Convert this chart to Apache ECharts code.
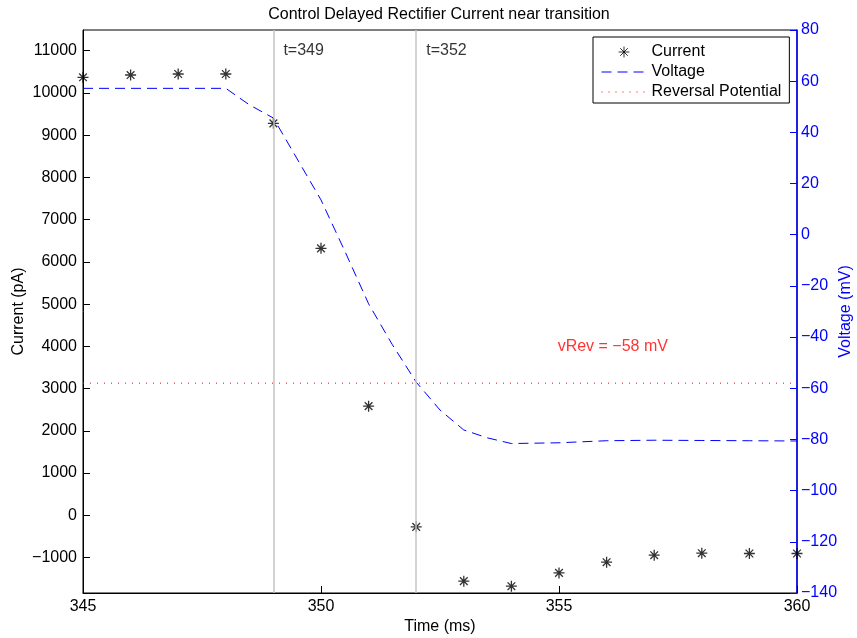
<!DOCTYPE html>
<html>
<head>
<meta charset="utf-8">
<script src="https://cdn.jsdelivr.net/npm/echarts@6/dist/echarts.min.js"></script>
<style>
html,body{margin:0;padding:0;background:#fff;}
#chart{width:857px;height:638px;}
</style>
</head>
<body>
<div id="chart"></div>
<script>
// ---- data ----
const currentTime = [345, 346, 347, 348, 349, 350, 351, 352, 353, 354, 355, 356, 357, 358, 359, 360];
const currentPA = [10370, 10424, 10448, 10448, 9280, 6320, 2584, -274, -1560, -1679, -1364, -1111, -945, -898, -905, -905];
const voltageTime = [345, 346, 347, 348, 348.5, 349, 349.5, 350, 350.5, 351, 351.5, 352, 352.5, 353, 353.5, 354, 355, 356, 357, 358, 359, 360];
const voltageMV = [57.2, 57.2, 57.2, 57.2, 50.7, 45.6, 29.6, 13.6, -6.4, -27, -43, -57.6, -68.5, -76.3, -79.4, -81.6, -81.3, -80.5, -80.3, -80.4, -80.5, -80.6];
const vRev = -58;
const markerTimes = [349, 352];
const leftTicks = [-1000, 0, 1000, 2000, 3000, 4000, 5000, 6000, 7000, 8000, 9000, 10000, 11000];
const xTicks = [345, 350, 355, 360];

const FONT = 'Liberation Sans, Arial, Helvetica, sans-serif';
const FS = 16;
const minus = v => String(v).replace('-', '\u2212');
const starPath = 'path://M0,-10L0,10M-10,0L10,0M-7,-7L7,7M-7,7L7,-7';
const starIcon = 'path://M-13,-13L-13,-13M13,13L13,13M0,-10L0,10M-10,0L10,0M-7,-7L7,7M-7,7L7,-7';

const chart = echarts.init(document.getElementById('chart'), null, {renderer: 'canvas'});
const option = {
  animation: false,
  backgroundColor: '#fff',
  title: {
    text: 'Control Delayed Rectifier Current near transition',
    left: 434, top: 2, textAlign: 'center',
    textStyle: {fontFamily: FONT, fontSize: 16, fontWeight: 'normal', color: '#000'}
  },
  grid: {left: 83, right: 60, top: 30, bottom: 45, show: true, borderColor: '#000', borderWidth: 1,
         backgroundColor: 'transparent', containLabel: false, outerBoundsMode: 'none'},
  legend: {
    orient: 'vertical', left: 593, top: 37,
    backgroundColor: '#fff', borderColor: '#000', borderWidth: 1,
    padding: [7, 8, 3, 8], itemGap: 4, itemWidth: 45, itemHeight: 14,
    textStyle: {fontFamily: FONT, fontSize: FS, color: '#000', lineHeight: 16},
    data: [
      {name: 'Current', icon: starIcon, itemStyle: {color: 'transparent', borderColor: '#000', borderWidth: 1}},
      {name: 'Voltage', itemStyle: {opacity: 0}, lineStyle: {width: 1, type: [10, 6]}},
      {name: 'Reversal Potential', itemStyle: {opacity: 0}, lineStyle: {width: 1, type: [1, 6]}}
    ],
    selectedMode: false
  },
  xAxis: {
    type: 'value', min: 345, max: 360, interval: 5,
    axisLine: {show: true, onZero: false, lineStyle: {color: '#000', width: 1}},
    axisTick: {show: true, inside: true, length: 7, customValues: xTicks, lineStyle: {color: '#000'}},
    axisLabel: {customValues: xTicks, color: '#000', fontSize: FS, fontFamily: FONT, margin: 6},
    splitLine: {show: false},
    name: 'Time (ms)', nameLocation: 'middle', nameGap: 34, nameMoveOverlap: false,
    nameTextStyle: {fontFamily: FONT, fontSize: FS, color: '#000', verticalAlign: 'middle'}
  },
  yAxis: [
    {
      type: 'value', min: -1840, max: 11490, position: 'left',
      axisLine: {show: true, onZero: false, lineStyle: {color: '#000', width: 1}},
      axisTick: {show: true, inside: true, length: 7, customValues: leftTicks, lineStyle: {color: '#000'}},
      axisLabel: {customValues: leftTicks, formatter: minus, color: '#000', fontSize: FS, fontFamily: FONT, margin: 6},
      splitLine: {show: false},
      name: 'Current (pA)', nameLocation: 'middle', nameGap: 64, nameMoveOverlap: false,
      nameTextStyle: {fontFamily: FONT, fontSize: FS, color: '#000', verticalAlign: 'middle'}
    },
    {
      type: 'value', min: -140, max: 80, interval: 20, position: 'right',
      axisLine: {show: true, onZero: false, lineStyle: {color: '#0000ff', width: 1.5}},
      axisTick: {show: true, inside: true, length: 7, lineStyle: {color: '#0000ff'}},
      axisLabel: {formatter: minus, color: '#0000ff', fontSize: FS, fontFamily: FONT, margin: 4},
      splitLine: {show: false},
      name: 'Voltage (mV)', nameLocation: 'middle', nameGap: 49, nameRotate: 90, nameMoveOverlap: false,
      nameTextStyle: {fontFamily: FONT, fontSize: FS, color: '#0000ff', verticalAlign: 'middle'}
    }
  ],
  series: [
    {
      name: 'markers', type: 'line', yAxisIndex: 0, data: [], silent: true, z: 1,
      markLine: {
        silent: true, symbol: 'none',
        lineStyle: {color: '#c4c4c4', width: 1.5, type: 'solid'},
        label: {show: false},
        data: markerTimes.map(t => ({xAxis: t}))
      }
    },
    {
      name: 'Voltage', type: 'line', yAxisIndex: 1,
      data: voltageTime.map((t, i) => [t, voltageMV[i]]),
      showSymbol: false, symbol: 'none',
      lineStyle: {color: '#0000ff', width: 1, type: [10, 6]},
      itemStyle: {color: '#0000ff'},
      z: 3
    },
    {
      name: 'Reversal Potential', type: 'line', yAxisIndex: 1,
      data: [[345, vRev], [360, vRev]],
      showSymbol: false, symbol: 'none',
      lineStyle: {color: '#ff0000', width: 1, type: [1, 6]},
      itemStyle: {color: '#ff0000'},
      z: 2
    },
    {
      name: 'Current', type: 'scatter', yAxisIndex: 0,
      data: currentTime.map((t, i) => [t, currentPA[i]]),
      symbol: starPath, symbolSize: 11,
      itemStyle: {color: 'transparent', borderColor: '#000', borderWidth: 1.3},
      z: 4
    },
    {
      name: 'tLabels', type: 'scatter', yAxisIndex: 0,
      data: markerTimes.map(t => [t, 11000]),
      symbolSize: 0, silent: true,
      label: {show: true, position: 'right', distance: 10, formatter: p => 't=' + p.value[0],
              fontFamily: FONT, fontSize: FS, color: '#000'}
    },
    {
      name: 'vRevLabel', type: 'scatter', yAxisIndex: 1,
      data: [[356.13, -43.9]],
      symbolSize: 0, silent: true,
      label: {show: true, position: 'inside', formatter: () => 'vRev = ' + minus(vRev) + ' mV',
              fontFamily: FONT, fontSize: FS, color: '#ff0000'}
    }
  ]
};
chart.setOption(option);
</script>
</body>
</html>
